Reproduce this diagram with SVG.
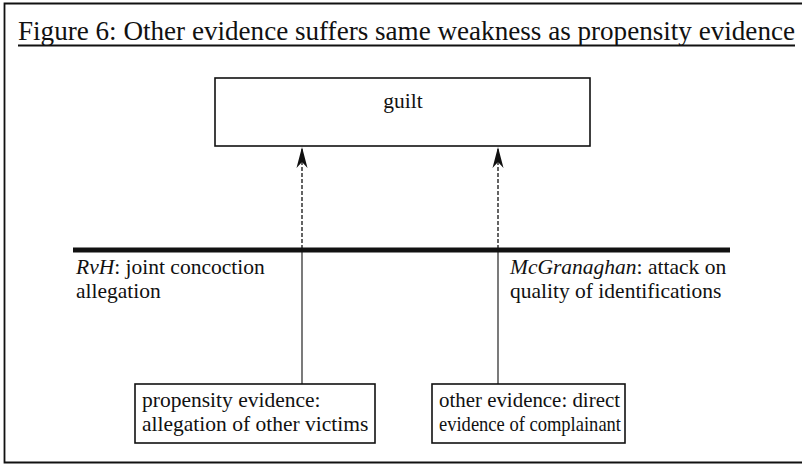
<svg xmlns="http://www.w3.org/2000/svg" width="802" height="464" viewBox="0 0 802 464">
  <style>
    .t { font-family: "Liberation Serif", "Times New Roman", serif; fill: #111; }
    .lbl { font-size: 21.5px; }
    .box { fill: #fff; stroke: #111; stroke-width: 1.6; }
    .dash { stroke: #111; stroke-width: 1.3; stroke-dasharray: 4 2; fill: none; }
    .link { stroke: #222; stroke-width: 1.2; fill: none; }
  </style>
  <defs>
    <!-- notched filled arrowhead, tip at the end of the line -->
    <marker id="head" markerUnits="userSpaceOnUse" markerWidth="22" markerHeight="12" refX="21" refY="6" orient="auto" viewBox="0 0 22 12">
      <path d="M21 6 L0 0.5 L6 6 L0 11.5 Z" fill="#111"/>
    </marker>
  </defs>
  <rect width="802" height="464" fill="#fff"/>

  <!-- frame: open on the right -->
  <path d="M802 3.5 H4.5 V462.5 H802" fill="none" stroke="#111" stroke-width="1.8"/>

  <!-- title -->
  <g id="title">
    <text class="t" x="18" y="40" font-size="27" textLength="777" lengthAdjust="spacingAndGlyphs">Figure 6: Other evidence suffers same weakness as propensity evidence</text>
    <line x1="18" y1="45.5" x2="795" y2="45.5" stroke="#111" stroke-width="1.8"/>
  </g>

  <!-- connectors -->
  <g id="connectors">
    <line class="dash" x1="302" y1="249" x2="302" y2="147" marker-end="url(#head)"/>
    <line class="dash" x1="498" y1="249" x2="498" y2="147" marker-end="url(#head)"/>
    <line class="link" x1="302" y1="252" x2="302" y2="384"/>
    <line class="link" x1="498" y1="252" x2="498" y2="384"/>
  </g>

  <!-- undercutting bar -->
  <g id="bar">
    <line x1="73" y1="250" x2="730" y2="250" stroke="#111" stroke-width="5"/>
  </g>

  <g id="guilt">
    <rect class="box" x="215" y="78" width="375" height="68"/>
    <text class="t lbl" x="403" y="108" text-anchor="middle">guilt</text>
  </g>

  <g id="rvh">
    <text class="t lbl" x="76" y="274"><tspan font-style="italic">RvH</tspan>: joint concoction</text>
    <text class="t lbl" x="76" y="298">allegation</text>
  </g>

  <g id="mcgranaghan">
    <text class="t lbl" x="510" y="274"><tspan font-style="italic">McGranaghan</tspan>: attack on</text>
    <text class="t lbl" x="510" y="298">quality of identifications</text>
  </g>

  <g id="propensity">
    <rect class="box" x="135" y="384" width="240" height="59"/>
    <text class="t lbl" x="142" y="407">propensity evidence:</text>
    <text class="t lbl" x="142" y="431">allegation of other victims</text>
  </g>

  <g id="other">
    <rect class="box" x="432" y="384" width="193" height="59"/>
    <text class="t lbl" x="439" y="407" textLength="181" lengthAdjust="spacingAndGlyphs">other evidence: direct</text>
    <text class="t lbl" x="439" y="431" textLength="182" lengthAdjust="spacingAndGlyphs">evidence of complainant</text>
  </g>
</svg>
